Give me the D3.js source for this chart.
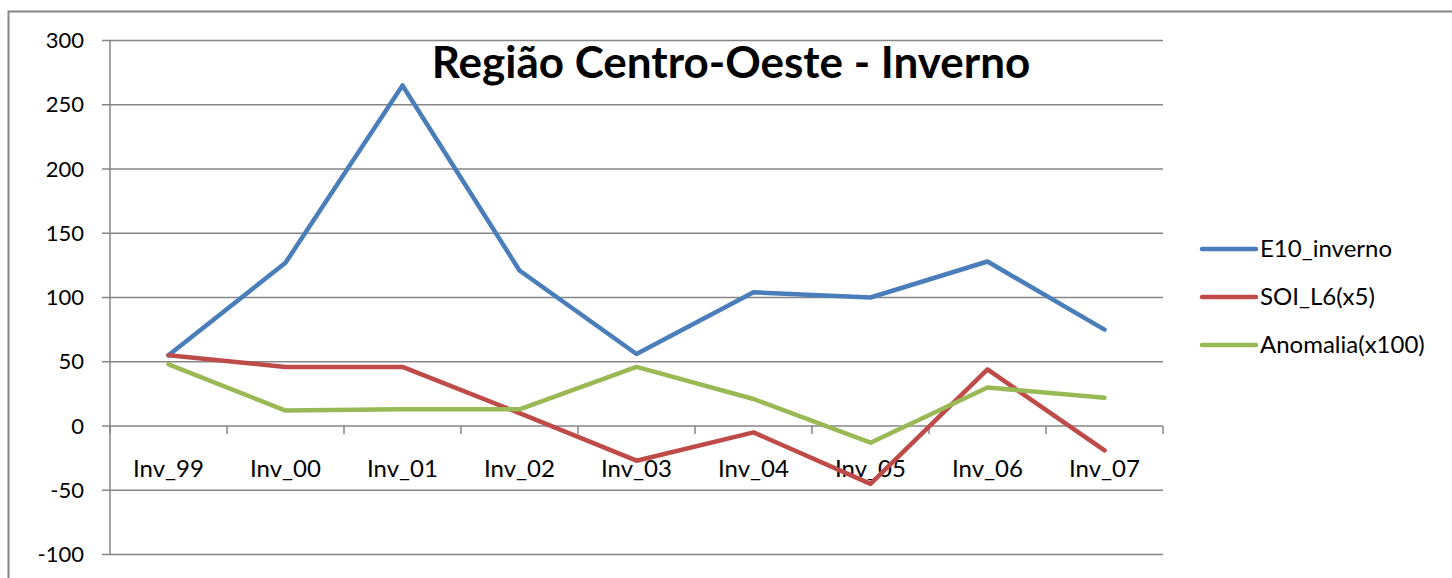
<!DOCTYPE html>
<html>
<head>
<meta charset="utf-8">
<script src="https://cdn.jsdelivr.net/npm/d3@7"></script>
<style>
  body { margin: 0; background: #fff; }
  svg { display: block; }
  text { font-family: Lato, "Open Sans", sans-serif; fill: #000; }
</style>
</head>
<body>
<div id="chart"></div>
<script>
const categories = ["Inv_99", "Inv_00", "Inv_01", "Inv_02", "Inv_03", "Inv_04", "Inv_05", "Inv_06", "Inv_07"];
const e10Inverno = [55, 127, 265, 121, 56, 104, 100, 128, 75];
const soiL6 = [55, 46, 46, 10, -27, -5, -45, 44, -19];
const anomalia = [48, 12, 13, 13, 46, 21, -13, 30, 22];
const yTicks = [-100, -50, 0, 50, 100, 150, 200, 250, 300];
const seriesNames = ["E10_inverno", "SOI_L6(x5)", "Anomalia(x100)"];
const seriesColors = ["#4A7EBB", "#BE4B48", "#98B954"];

const width = 1452, height = 578;
const plot = { left: 110, right: 1163, top: 40.5, bottom: 554.5 };

const svg = d3.select("#chart").append("svg")
  .attr("width", width)
  .attr("height", height);

// outer chart frame (runs off the right and bottom edges)
svg.append("rect")
  .attr("x", 8.5).attr("y", 11.5)
  .attr("width", width + 20).attr("height", height + 20)
  .attr("fill", "none")
  .attr("stroke", "#868686")
  .attr("stroke-width", 2);

const x = d3.scaleBand().domain(categories).range([plot.left, plot.right]);
const y = d3.scaleLinear().domain([-100, 300]).range([plot.bottom, plot.top]);

// gridlines
svg.append("g").selectAll("line")
  .data(yTicks)
  .enter().append("line")
  .attr("x1", plot.left - 8).attr("x2", plot.right)
  .attr("y1", d => y(d)).attr("y2", d => y(d))
  .attr("stroke", "#868686").attr("stroke-width", 1.5);

// y axis line
svg.append("line")
  .attr("x1", plot.left).attr("x2", plot.left)
  .attr("y1", plot.top).attr("y2", plot.bottom)
  .attr("stroke", "#868686").attr("stroke-width", 1.5);

// y labels
svg.append("g").selectAll("text")
  .data(yTicks)
  .enter().append("text")
  .attr("x", plot.left - 26)
  .attr("y", d => y(d))
  .attr("dy", "0.35em")
  .attr("text-anchor", "end")
  .style("font-size", "22px")
  .text(d => d);

// x axis ticks on zero line
const xTickPos = categories.map(c => x(c)).concat([plot.right]);
svg.append("g").selectAll("line")
  .data(xTickPos)
  .enter().append("line")
  .attr("x1", d => d).attr("x2", d => d)
  .attr("y1", y(0)).attr("y2", y(0) + 8)
  .attr("stroke", "#868686").attr("stroke-width", 1.5);

// x labels
svg.append("g").selectAll("text")
  .data(categories)
  .enter().append("text")
  .attr("x", d => x(d) + x.bandwidth() / 2)
  .attr("y", y(0) + 43)
  .attr("dy", "0.35em")
  .attr("text-anchor", "middle")
  .style("font-size", "24px")
  .text(d => d);

// lines
const allSeries = [e10Inverno, soiL6, anomalia];
const line = d3.line()
  .x((d, i) => x(categories[i]) + x.bandwidth() / 2)
  .y(d => y(d));

svg.append("g").selectAll("path")
  .data(allSeries)
  .enter().append("path")
  .attr("d", line)
  .attr("fill", "none")
  .attr("stroke", (d, i) => seriesColors[i])
  .attr("stroke-width", 4.5)
  .attr("stroke-linejoin", "round")
  .attr("stroke-linecap", "round");

// title
svg.append("text")
  .attr("x", 731)
  .attr("y", 63)
  .attr("dy", "0.35em")
  .attr("text-anchor", "middle")
  .style("font-size", "44px")
  .style("font-weight", "bold")
  .text("Região Centro-Oeste - Inverno");

// legend
const legend = svg.append("g").selectAll("g")
  .data(seriesNames)
  .enter().append("g")
  .attr("transform", (d, i) => `translate(1202, ${249 + i * 48})`);

legend.append("line")
  .attr("x1", 0).attr("x2", 54)
  .attr("y1", 0).attr("y2", 0)
  .attr("stroke", (d, i) => seriesColors[i])
  .attr("stroke-width", 4.5)
  .attr("stroke-linecap", "round");

legend.append("text")
  .attr("x", 58)
  .attr("y", 0)
  .attr("dy", "0.35em")
  .style("font-size", "24px")
  .text(d => d);
</script>
</body>
</html>
